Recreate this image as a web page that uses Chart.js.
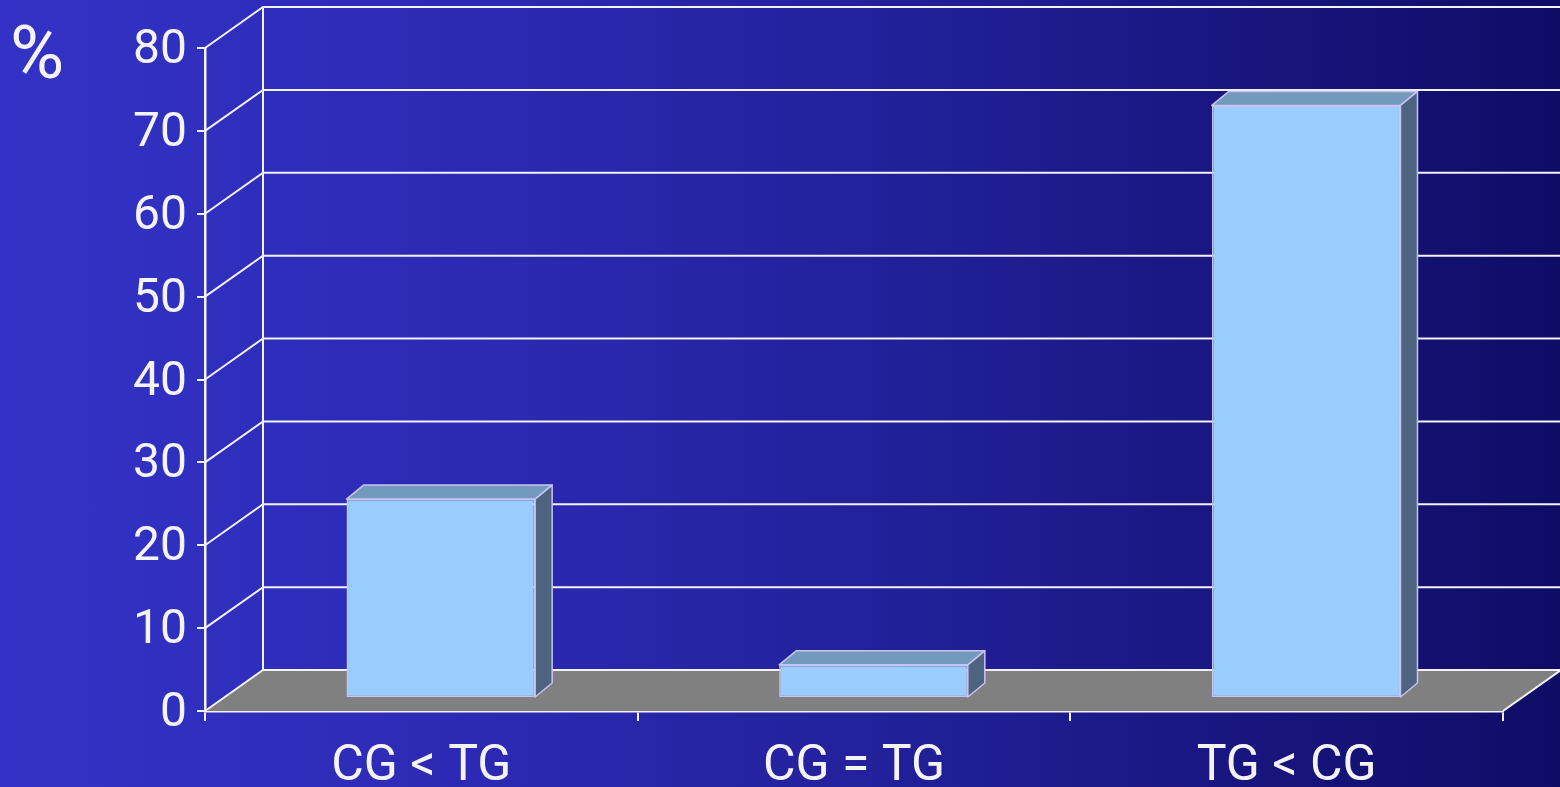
<!DOCTYPE html>
<html>
<head>
<meta charset="utf-8">
<script src="https://cdn.jsdelivr.net/npm/chart.js@4/dist/chart.umd.min.js"></script>
<style>
html, body { margin: 0; padding: 0; }
body {
  width: 1560px; height: 787px; overflow: hidden;
  background: linear-gradient(to right, #3332c6 0%, #2c2ab4 30%, #211f96 60%, #0f0c66 100%);
}
</style>
</head>
<body>
<canvas id="myChart" width="1560" height="787"></canvas>
<script>
// data
var categories = ["CG < TG", "CG = TG", "TG < CG"];
var values = [24, 4, 71.5];
var yTicks = [0, 10, 20, 30, 40, 50, 60, 70, 80];
var unitLabel = "%";

var lineColor = "#f2f2fa";
var textColor = "#f4f4f8";
var frontColor = "#99ccff";
var topColor = "#7399bd";
var sideColor = "#4d6380";
var edgeColor = "#c8c4f2";

// 3d offsets (px)
var wallDX = 58, wallDY = -41;
var barShiftX = 19.5, barShiftY = -13;
var barDX = 17, barDY = -14;

var threeD = {
  id: "threeD",
  beforeDatasetsDraw: function(chart) {
    var c = chart.ctx, xs = chart.scales.x, ys = chart.scales.y;
    var l = xs.left, r = xs.right, b = ys.getPixelForValue(0);
    c.save();
    // floor
    c.fillStyle = "#808080";
    c.beginPath();
    c.moveTo(l, b); c.lineTo(r, b); c.lineTo(r + wallDX, b + wallDY); c.lineTo(l + wallDX, b + wallDY);
    c.closePath(); c.fill();
    // back wall grid + side diagonals
    c.strokeStyle = lineColor; c.lineWidth = 2;
    yTicks.forEach(function(v) {
      var py = ys.getPixelForValue(v);
      c.beginPath();
      c.moveTo(l, py); c.lineTo(l + wallDX, py + wallDY); c.lineTo(r + wallDX, py + wallDY);
      c.stroke();
    });
    c.beginPath();
    c.moveTo(l + wallDX, ys.getPixelForValue(yTicks[yTicks.length - 1]) + wallDY);
    c.lineTo(l + wallDX, b + wallDY);
    c.stroke();
    c.beginPath(); c.moveTo(r, b); c.lineTo(r + wallDX, b + wallDY); c.stroke();
    c.restore();
    // bars sit in the middle of the depth
    c.save();
    c.translate(barShiftX, barShiftY);
  },
  afterDatasetsDraw: function(chart) {
    var c = chart.ctx;
    c.lineWidth = 1.5;
    c.strokeStyle = edgeColor;
    c.lineJoin = "round";
    chart.getDatasetMeta(0).data.forEach(function(bar) {
      var p = bar.getProps(["x", "y", "base", "width"], true);
      var x0 = p.x - p.width / 2, x1 = p.x + p.width / 2, t = p.y, bs = p.base;
      // top
      c.beginPath();
      c.moveTo(x0, t); c.lineTo(x0 + barDX, t + barDY); c.lineTo(x1 + barDX, t + barDY); c.lineTo(x1, t);
      c.closePath();
      c.fillStyle = topColor; c.fill(); c.stroke();
      // side
      c.beginPath();
      c.moveTo(x1, t); c.lineTo(x1 + barDX, t + barDY); c.lineTo(x1 + barDX, bs + barDY); c.lineTo(x1, bs);
      c.closePath();
      c.fillStyle = sideColor; c.fill(); c.stroke();
    });
    c.restore();
  },
  afterDraw: function(chart) {
    var c = chart.ctx;
    c.save();
    c.fillStyle = textColor;
    c.font = "74px Roboto";
    c.textBaseline = "alphabetic";
    c.textAlign = "left";
    c.fillText(unitLabel, 10, 78);
    c.restore();
  }
};

var ctx = document.getElementById("myChart");
var myChart = new Chart(ctx, {
  type: "bar",
  data: {
    labels: categories,
    datasets: [{
      data: values,
      backgroundColor: frontColor,
      borderColor: edgeColor,
      borderWidth: 1.5,
      borderSkipped: false,
      barPercentage: 0.436,
      categoryPercentage: 1
    }]
  },
  options: {
    responsive: false,
    animation: false,
    layout: { padding: { top: 48, right: 57, left: 0, bottom: 0 } },
    plugins: { legend: { display: false }, tooltip: { enabled: false } },
    scales: {
      x: {
        z: 1,
        grid: { display: true, drawOnChartArea: false, drawTicks: true, tickLength: 10, color: lineColor, lineWidth: 2, offset: true },
        border: { display: true, color: lineColor, width: 2.5 },
        ticks: { color: textColor, font: { family: "Roboto", size: 50 }, padding: 16, maxRotation: 0 },
        afterFit: function(s) { s.height = 76; }
      },
      y: {
        z: 1,
        min: 0,
        max: 80,
        grid: { display: true, drawOnChartArea: false, drawTicks: true, tickLength: 8, color: lineColor, lineWidth: 2 },
        border: { display: true, color: lineColor, width: 2.5 },
        ticks: { stepSize: 10, color: textColor, font: { family: "Roboto", size: 48 }, padding: 10, labelOffset: 3 },
        afterFit: function(s) { s.width = 205; }
      }
    }
  },
  plugins: [threeD]
});
</script>
</body>
</html>
